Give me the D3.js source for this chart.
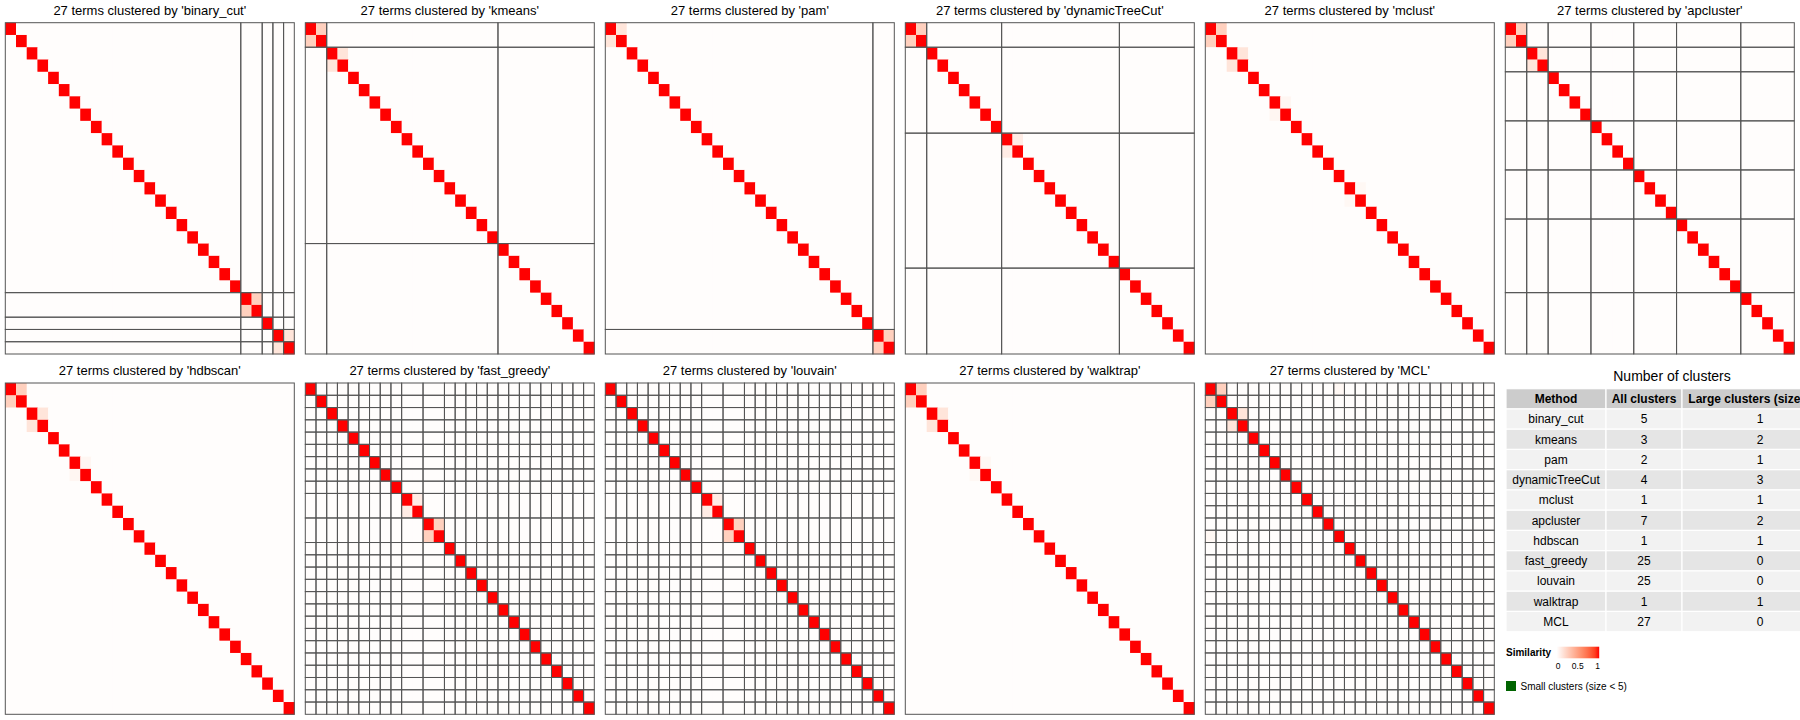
<!DOCTYPE html>
<html><head><meta charset="utf-8">
<script src="https://cdn.jsdelivr.net/npm/d3@7"></script>
<style>
body{margin:0;background:#fff;overflow:hidden}
svg{display:block}
text{font-family:"Liberation Sans",Arial,Helvetica,sans-serif;fill:#000}
</style>
</head><body><svg id="chart" width="1800" height="720"></svg>
<script>
// ---------------- data ----------------
const nTerms = 27;
const methods = ["binary_cut","kmeans","pam","dynamicTreeCut","mclust","apcluster","hdbscan","fast_greedy","louvain","walktrap","MCL"];
// cluster sizes in heatmap order (one array per method)
const clusterSizes = [
  [22,2,1,1,1],
  [2,16,9],
  [25,2],
  [2,7,11,7],
  [27],
  [2,2,4,4,4,6,5],
  [27],
  [1,1,1,1,1,1,1,1,1,2,2,1,1,1,1,1,1,1,1,1,1,1,1,1,1],
  [1,1,1,1,1,1,1,1,1,2,2,1,1,1,1,1,1,1,1,1,1,1,1,1,1],
  [27],
  [1,1,1,1,1,1,1,1,1,1,1,1,1,1,1,1,1,1,1,1,1,1,1,1,1,1,1]
];
// visible off-diagonal similarities: [term i, term j, similarity] (1-based, heatmap order)
const similarPairs = [
  [[23,24,0.25],[26,27,0.14]],
  [[1,2,0.25],[3,4,0.14]],
  [[1,2,0.14],[26,27,0.25]],
  [[1,2,0.25],[10,11,0.10]],
  [[1,2,0.25],[3,4,0.14],[7,8,0.05],[14,15,0.04]],
  [[1,2,0.25],[3,4,0.14]],
  [[1,2,0.25],[3,4,0.14],[7,8,0.05]],
  [[10,11,0.10],[12,13,0.25]],
  [[10,11,0.10],[12,13,0.25]],
  [[1,2,0.25],[3,4,0.14],[7,8,0.04]],
  [[1,2,0.25],[3,4,0.14],[1,13,0.04]]
];
const backgroundSimilarity = 0.012;
const diagonalSimilarity = 1;
// table
const tableTitle = "Number of clusters";
const tableHeader = ["Method","All clusters","Large clusters (size >= 5)"];
const allClusters = [5,3,2,4,1,7,1,25,25,1,27];
const largeClusters = [1,2,1,3,1,2,1,0,0,1,0];
// legend
const legendTicks = [0,0.5,1];
const legendTickLabels = ["0","0.5","1"];

// ---------------- drawing ----------------
const svg = d3.select("#chart");
const color = d3.scaleLinear().domain([0,1]).range(["#ffffff","#ff0000"]).interpolate(d3.interpolateLab);

const panelLeft = 5.3, panelStep = 300, panelW = 289, panelH = 331.3;
const panelTop = [22.7, 383];
const titleBase = [15.2, 374.6];
const lineColor = "#555555";

methods.forEach((m, i) => {
  const col = i % 6, row = Math.floor(i / 6);
  const x0 = panelLeft + col * panelStep, y0 = panelTop[row];
  const xs = d3.scaleBand().domain(d3.range(nTerms)).range([x0, x0 + panelW]);
  const ys = d3.scaleBand().domain(d3.range(nTerms)).range([y0, y0 + panelH]);
  const mat = [];
  for (let r = 0; r < nTerms; r++) {
    mat.push([]);
    for (let c = 0; c < nTerms; c++) mat[r].push(r === c ? diagonalSimilarity : backgroundSimilarity);
  }
  similarPairs[i].forEach(([a, b, v]) => { mat[a-1][b-1] = v; mat[b-1][a-1] = v; });
  const cells = [];
  mat.forEach((rowv, r) => rowv.forEach((v, c) => cells.push({r, c, v})));
  const g = svg.append("g");
  g.selectAll("rect.cell").data(cells).join("rect")
    .attr("class","cell")
    .attr("x", d => xs(d.c)).attr("y", d => ys(d.r))
    .attr("width", xs.bandwidth() + 0.4).attr("height", ys.bandwidth() + 0.4)
    .attr("fill", d => color(d.v));
  // slice borders
  const sizes = clusterSizes[i];
  const starts = [0]; sizes.forEach(s => starts.push(starts[starts.length-1] + s));
  const slices = [];
  for (let a = 0; a < sizes.length; a++) for (let b = 0; b < sizes.length; b++)
    slices.push({r0: starts[a], r1: starts[a+1], c0: starts[b], c1: starts[b+1]});
  const edge = k => k >= nTerms ? x0 + panelW : xs(k);
  const edgeY = k => k >= nTerms ? y0 + panelH : ys(k);
  g.selectAll("rect.slice").data(slices).join("rect")
    .attr("class","slice")
    .attr("x", d => edge(d.c0)).attr("y", d => edgeY(d.r0))
    .attr("width", d => edge(d.c1) - edge(d.c0)).attr("height", d => edgeY(d.r1) - edgeY(d.r0))
    .attr("fill","none").attr("stroke", lineColor).attr("stroke-width", 1);
  g.append("text")
    .attr("x", x0 + panelW/2).attr("y", titleBase[row])
    .attr("text-anchor","middle").style("font-size","13px")
    .text(`${nTerms} terms clustered by '${m}'`);
});

// ---------------- table ----------------
const tblX = 1506, tblY = 388.7, rowPitch = 20.25;
const colWidths = [100, 76, 156];
const colStarts = [tblX, tblX + colWidths[0], tblX + colWidths[0] + colWidths[1]];
svg.append("text").attr("x", tblX + d3.sum(colWidths)/2).attr("y", 380.8)
  .attr("text-anchor","middle").style("font-size","14px").text(tableTitle);
const tg = svg.append("g");
const rowsData = [tableHeader].concat(methods.map((m, k) => [m, String(allClusters[k]), String(largeClusters[k])]));
rowsData.forEach((rowv, r) => {
  const y = tblY + r * rowPitch;
  const fill = r === 0 ? "#cccccc" : (r % 2 === 1 ? "#f2f2f2" : "#e5e5e5");
  rowv.forEach((t, c) => {
    tg.append("rect").attr("x", colStarts[c]).attr("y", y)
      .attr("width", colWidths[c]).attr("height", rowPitch)
      .attr("fill", fill).attr("stroke", "#ffffff").attr("stroke-width", 1.2);
    tg.append("text").attr("x", colStarts[c] + colWidths[c]/2).attr("y", y + rowPitch/2 + 4.3)
      .attr("text-anchor","middle").style("font-size","12px")
      .style("font-weight", r === 0 ? "bold" : "normal").text(t);
  });
});

// ---------------- legend ----------------
const lg = svg.append("g");
lg.append("text").attr("x", 1506).attr("y", 656.3).style("font-size","10px").style("font-weight","bold").text("Similarity");
const lx = d3.scaleLinear().domain([0,1]).range([1558, 1597.5]);
const grad = svg.append("defs").append("linearGradient").attr("id","simgrad");
d3.range(0, 1.0001, 0.1).forEach(t => grad.append("stop").attr("offset", t).attr("stop-color", color(t)));
lg.append("rect").attr("x", lx(0) - 1.3).attr("y", 646.7).attr("width", lx(1) - lx(0) + 3).attr("height", 11.6).attr("fill","url(#simgrad)");
lg.selectAll("text.tick").data(legendTicks).join("text").attr("class","tick")
  .attr("x", d => lx(d)).attr("y", 668.8).attr("text-anchor","middle").style("font-size","8.5px")
  .text((d, k) => legendTickLabels[k]);
lg.append("rect").attr("x", 1506).attr("y", 681).attr("width", 10).attr("height", 10).attr("fill","#006400");
lg.append("text").attr("x", 1520.5).attr("y", 689.6).style("font-size","10px").text("Small clusters (size < 5)");
</script>
</body></html>
